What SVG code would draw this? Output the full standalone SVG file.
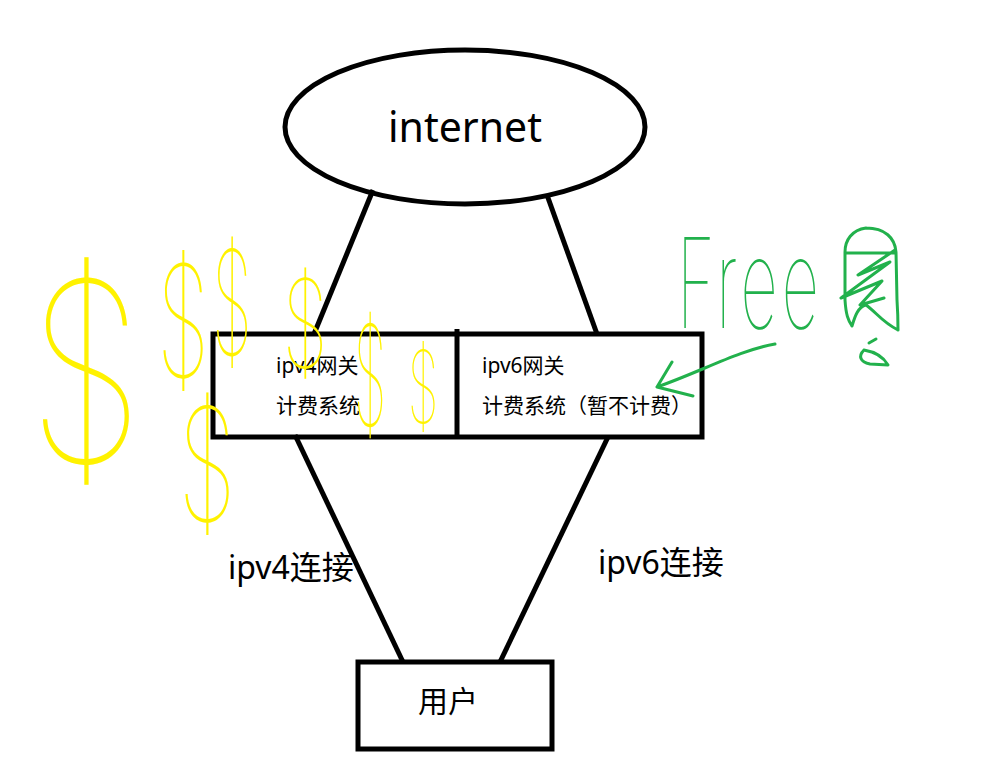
<svg xmlns="http://www.w3.org/2000/svg" width="984" height="764" viewBox="0 0 984 764">
<style>
.shape{fill:none;stroke:#000;stroke-width:5}
.conn{stroke:#000;stroke-width:5;fill:none}
.lbl{font-family:"Noto Sans","Noto Sans CJK SC",sans-serif;fill:#000}
.dollar{font-family:Inter,"Noto Sans",sans-serif;font-weight:100;fill:#FFF200;text-anchor:middle}
.green{fill:none;stroke:#22B14C;stroke-width:3;stroke-linecap:round;stroke-linejoin:round}
</style>
<rect width="984" height="764" fill="#fff"/>
<g id="connectors">
<line class="conn" x1="373" y1="190" x2="314" y2="334"/>
<line class="conn" x1="547" y1="195" x2="597" y2="334"/>
<line class="conn" x1="295" y1="435" x2="403" y2="662"/>
<line class="conn" x1="608" y1="437" x2="500" y2="662"/>
</g>
<g id="internet">
<ellipse class="shape" cx="465" cy="127" rx="180" ry="77"/>
<text class="lbl" x="465" y="142" font-size="41" text-anchor="middle">internet</text>
</g>
<g id="gateway">
<rect class="shape" x="213" y="334" width="489" height="103" fill="#fff"/>
<line class="conn" x1="457" y1="329" x2="457" y2="437"/>
</g>
<g id="ipv4-gateway">
<text class="lbl" x="276" y="373" font-size="21">ipv4网关</text>
<text class="lbl" x="276" y="413" font-size="21">计费系统</text>
</g>
<g id="ipv6-gateway">
<text class="lbl" x="482" y="373" font-size="21">ipv6网关</text>
<text class="lbl" x="482" y="413" font-size="21">计费系统（暂不计费）</text>
</g>
<g id="user">
<rect class="shape" x="358" y="662" width="194" height="87"/>
<text class="lbl" x="448" y="712" font-size="30" text-anchor="middle">用户</text>
</g>
<g id="labels">
<text class="lbl" x="228" y="579" font-size="32">ipv4连接</text>
<text class="lbl" x="598" y="574" font-size="32">ipv6连接</text>
</g>
<g id="dollars">
<text class="dollar" font-size="250" transform="translate(86,462) scale(0.75,1)">$</text>
<text class="dollar" font-size="155" transform="translate(183,377) scale(0.55,1)">$</text>
<text class="dollar" font-size="145" transform="translate(232,355) scale(0.45,1)">$</text>
<text class="dollar" font-size="123" transform="translate(305,368) scale(0.6,1)">$</text>
<text class="dollar" font-size="140" transform="translate(370,426) scale(0.38,1)">$</text>
<text class="dollar" font-size="100" transform="translate(423,423) scale(0.5,1)">$</text>
<text class="dollar" font-size="157" transform="translate(207,521) scale(0.6,1)">$</text>
</g>
<g id="free">
<text font-family="Inter,'Noto Sans',sans-serif" font-weight="100" font-size="125" fill="#22B14C" letter-spacing="8" transform="translate(677,328) scale(0.52,1)">Free</text>
<path class="green" d="M866,228 C852,230 845,240 845,252 L845,300 C846,315 848,320 852,326 M866,228 C885,228 895,238 896,252 L897,300 C898,315 898,325 898,330 M845,253 L895,253 M895,250 L858,275 L890,262 L841,298 L882,281 L860,305 L884,298 M852,326 C855,316 858,307 866,305 C876,312 882,322 898,330"/>
<path class="green" d="M869,343 L876,339 M864,350 C858,356 860,362 870,364 L888,365 C884,358 876,352 864,350"/>
<path class="green" d="M775,344 C740,350 700,372 657,387 M672,362 L657,387 L693,396"/>
</g>
</svg>
